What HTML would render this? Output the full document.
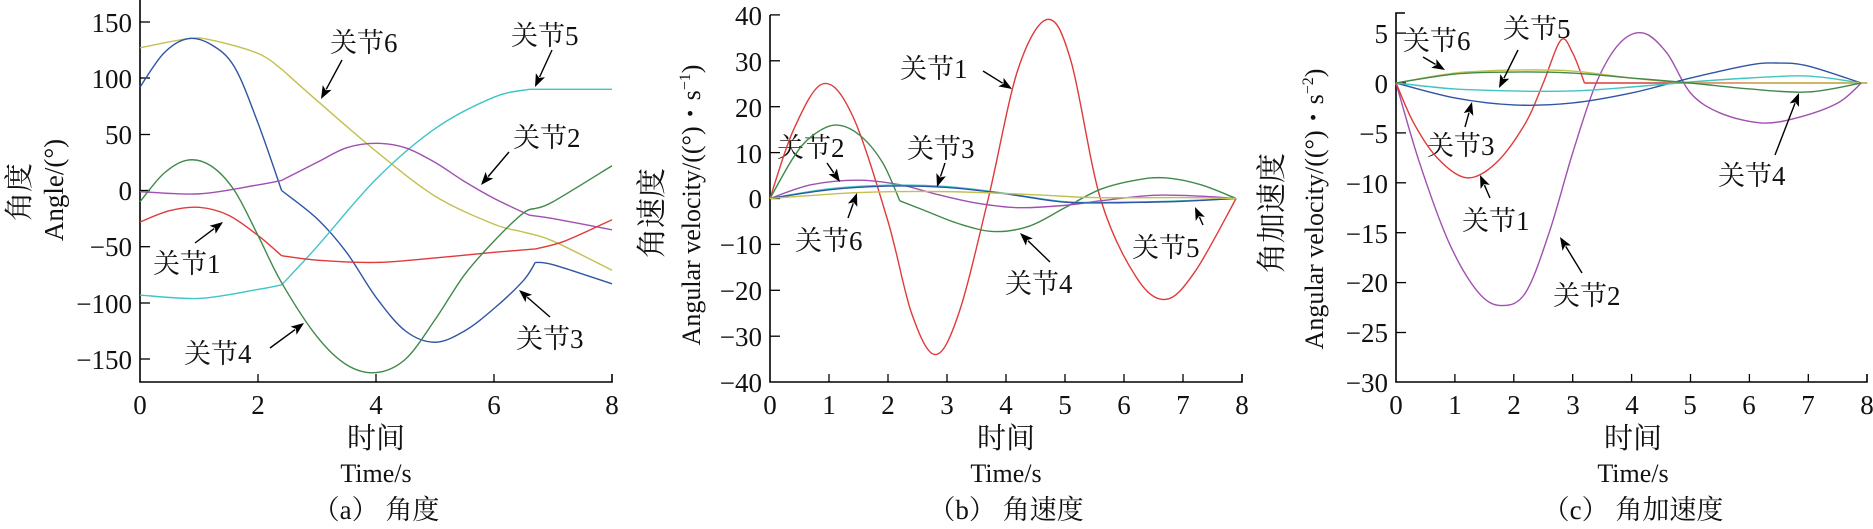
<!DOCTYPE html>
<html><head><meta charset="utf-8"><style>
html,body{margin:0;padding:0;background:#fff;}
svg{display:block;}
text{font-family:"Liberation Serif","Noto Serif CJK SC","Noto Sans CJK SC",serif;fill:#111;}
</style></head><body>
<svg id="s" width="1873" height="529" viewBox="0 0 1873 529" xmlns="http://www.w3.org/2000/svg">
<g font-size="27">
<path d="M140 0 V382 H612 V374" stroke="#000" stroke-width="1.6" fill="none"/>
<g stroke="#000" stroke-width="1.3">
<line x1="140" y1="22" x2="150" y2="22"/><line x1="140" y1="78" x2="150" y2="78"/><line x1="140" y1="134.5" x2="150" y2="134.5"/><line x1="140" y1="190.5" x2="150" y2="190.5"/><line x1="140" y1="246.7" x2="150" y2="246.7"/><line x1="140" y1="303" x2="150" y2="303"/><line x1="140" y1="359" x2="150" y2="359"/>
<line x1="258" y1="382" x2="258" y2="374"/><line x1="376" y1="382" x2="376" y2="374"/><line x1="494" y1="382" x2="494" y2="374"/>
</g>
<g text-anchor="end">
<text x="132" y="32">150</text><text x="132" y="88">100</text><text x="132" y="144">50</text><text x="132" y="200">0</text><text x="132" y="256">−50</text><text x="132" y="313">−100</text><text x="132" y="369">−150</text>
</g>
<g text-anchor="middle">
<text x="140" y="414">0</text><text x="258" y="414">2</text><text x="376" y="414">4</text><text x="494" y="414">6</text><text x="612" y="414">8</text>
<text x="376" y="448" font-size="29">时间</text>
<text x="376" y="482" font-size="26">Time/s</text>
<text x="376" y="519">（a） 角度</text>
<text transform="translate(29,192) rotate(-90)" font-size="29">角度</text>
<text transform="translate(63,190) rotate(-90)" font-size="27">Angle/(°)</text>
</g>

<path d="M770 15 V382 H1242 V374" stroke="#000" stroke-width="1.6" fill="none"/>
<g stroke="#000" stroke-width="1.3" id="bt"></g>
<g text-anchor="end">
<text x="762" y="25">40</text><text x="762" y="71">30</text><text x="762" y="117">20</text><text x="762" y="163">10</text><text x="762" y="208">0</text><text x="762" y="254">−10</text><text x="762" y="300">−20</text><text x="762" y="346">−30</text><text x="762" y="392">−40</text>
</g>
<g text-anchor="middle">
<text x="770" y="414">0</text><text x="829" y="414">1</text><text x="888" y="414">2</text><text x="947" y="414">3</text><text x="1006" y="414">4</text><text x="1065" y="414">5</text><text x="1124" y="414">6</text><text x="1183" y="414">7</text><text x="1242" y="414">8</text>
<text x="1006" y="448" font-size="29">时间</text>
<text x="1006" y="482" font-size="26">Time/s</text>
<text x="1006" y="519">（b） 角速度</text>
<text transform="translate(662,213) rotate(-90)" font-size="30">角速度</text>
<text transform="translate(700,205) rotate(-90)" font-size="26">Angular velocity/((°)・s<tspan dy="-10" font-size="16">−1</tspan><tspan dy="10">)</tspan></text>
</g>

<path d="M1405 13 H1396 V382 H1867 V374" stroke="#000" stroke-width="1.6" fill="none"/>
<g stroke="#000" stroke-width="1.3" id="ct"></g>
<g text-anchor="end">
<text x="1388" y="43">5</text><text x="1388" y="93">0</text><text x="1388" y="143">−5</text><text x="1388" y="193">−10</text><text x="1388" y="243">−15</text><text x="1388" y="292">−20</text><text x="1388" y="342">−25</text><text x="1388" y="392">−30</text>
</g>
<g text-anchor="middle">
<text x="1396" y="414">0</text><text x="1455" y="414">1</text><text x="1514" y="414">2</text><text x="1573" y="414">3</text><text x="1632" y="414">4</text><text x="1690" y="414">5</text><text x="1749" y="414">6</text><text x="1808" y="414">7</text><text x="1867" y="414">8</text>
<text x="1633" y="448" font-size="29">时间</text>
<text x="1633" y="482" font-size="26">Time/s</text>
<text x="1633" y="519">（c） 角加速度</text>
<text transform="translate(1282,213) rotate(-90)" font-size="30">角加速度</text>
<text transform="translate(1323,209) rotate(-90)" font-size="26">Angular velocity/((°)・s<tspan dy="-10" font-size="16">−2</tspan><tspan dy="10">)</tspan></text>
</g>

<g font-size="27">
<text x="330" y="52">关节6</text><text x="511" y="45">关节5</text><text x="513" y="147">关节2</text><text x="153" y="273">关节1</text><text x="184" y="363">关节4</text><text x="516" y="348">关节3</text>
<text x="900" y="78">关节1</text><text x="777" y="157">关节2</text><text x="907" y="158">关节3</text><text x="795" y="250">关节6</text><text x="1005" y="293">关节4</text><text x="1132" y="257">关节5</text>
<text x="1403" y="50">关节6</text><text x="1503" y="38">关节5</text><text x="1427" y="155">关节3</text><text x="1462" y="230">关节1</text><text x="1553" y="305">关节2</text><text x="1718" y="185">关节4</text>
</g>
</g>
<g id="curves" fill="none" stroke-width="1.4"></g>
<g id="arrows"></g>
</svg>
<script>
var NS="http://www.w3.org/2000/svg",svg=document.getElementById('s');
function el(p,t,a){var e=document.createElementNS(NS,t);for(var k in a)e.setAttribute(k,a[k]);p.appendChild(e);return e;}
var bt=document.getElementById('bt');
for(var i=1;i<8;i++)el(bt,'line',{x1:770+59*i,y1:382,x2:770+59*i,y2:374});
for(var v=-30;v<=40;v+=10)el(bt,'line',{x1:770,y1:198.5-v*4.59,x2:780,y2:198.5-v*4.59});
var ct=document.getElementById('ct');
for(var i=1;i<8;i++)el(ct,'line',{x1:1396+58.9*i,y1:382,x2:1396+58.9*i,y2:374});
for(var v=-25;v<=5;v+=5)el(ct,'line',{x1:1396,y1:83-v*9.98,x2:1406,y2:83-v*9.98});
var C={r:"#e03a3a",p:"#a050b0",b:"#2f55a5",g:"#3f8a4a",c:"#40c4c4",y:"#c4c050"};
var P={a:{x0:140,sx:59,y0:190.5,sy:1.124},b:{x0:770,sx:59,y0:198.5,sy:4.59},c:{x0:1396,sx:58.9,y0:83,sy:9.98}};
function seg(pts){var s="M"+pts[0][0]+" "+pts[0][1];
for(var i=0;i<pts.length-1;i++){var a=pts[Math.max(0,i-1)],b=pts[i],c=pts[i+1],e=pts[Math.min(pts.length-1,i+2)];
s+=" C"+(b[0]+(c[0]-a[0])/6)+" "+(b[1]+(c[1]-a[1])/6)+" "+(c[0]-(e[0]-b[0])/6)+" "+(c[1]-(e[1]-b[1])/6)+" "+c[0]+" "+c[1];}return s;}
function curve(pn,col,d,brk){var p=P[pn];brk=brk||[];var segs=[[]];
d.forEach(function(q){var pt=[p.x0+q[0]*p.sx,p.y0-q[1]*p.sy];segs[segs.length-1].push(pt);if(brk.indexOf(q[0])>=0)segs.push([pt]);});
var s=segs.filter(function(x){return x.length>1;}).map(seg).join(" ");
el(document.getElementById('curves'),'path',{d:s,stroke:C[col]});}
curve('a','y',[[0,127],[0.8,135],[1.2,134],[2,122],[2.4,108],[3,80],[4,35],[5,-5],[6,-30],[6.5,-37],[7,-45],[8,-71]],[2.4]);
curve('a','b',[[0,92],[0.4,122],[0.8,135],[1.2,130],[1.6,110],[2,60],[2.4,0],[3,-25],[3.5,-55],[4,-95],[4.5,-125],[5,-135],[5.5,-125],[6,-105],[6.5,-80],[6.7,-64],[7,-66],[8,-83]],[2.4,6.7]);
curve('a','c',[[0,-93],[1,-96],[2,-88],[2.4,-84],[3,-50],[4,10],[5,55],[6,83],[6.6,90],[7,90],[8,90]],[2.4,6.6]);
curve('a','p',[[0,-1],[1,-3],[2,5],[2.4,9],[3,25],[3.5,38],[4,42],[4.5,38],[5,25],[5.5,8],[6,-7],[6.6,-22],[7,-25],[8,-35]],[2.4,6.6]);
curve('a','r',[[0,-28],[0.5,-18],[1,-15],[1.5,-22],[2,-40],[2.4,-58],[3,-62],[4,-64],[5,-60],[6,-55],[6.7,-52],[7.2,-45],[8,-26]],[2.4,6.7]);
curve('a','g',[[0,-10],[0.4,15],[0.8,27],[1.2,22],[1.6,0],[2,-40],[2.4,-82],[3,-130],[3.5,-155],[4,-162],[4.5,-150],[5,-115],[5.5,-75],[6,-45],[6.5,-20],[6.7,-16],[7,-10],[8,22]],[6.7]);
curve('b','r',[[0,0],[0.4,15],[0.9,25],[1.4,18],[2,-5],[2.4,-25],[2.8,-34],[3.2,-25],[3.7,0],[4.2,28],[4.7,39],[5.1,30],[5.6,0],[6.2,-17],[6.7,-22],[7.2,-16],[7.9,0]]);
curve('b','g',[[0,0],[0.4,9],[0.7,13.5],[1.1,16],[1.5,14],[1.9,8],[2.2,-0.5],[2.6,-2.5],[3.2,-5.5],[3.8,-7.2],[4.4,-6],[5,-2],[5.6,2],[6.2,4],[6.7,4.5],[7.3,3],[7.9,0]],[2.2]);
curve('b','p',[[0,0],[0.7,3],[1.5,4],[2.2,3],[2.8,1],[3.5,-1],[4.2,-2],[5,-1.5],[5.6,-0.5],[6.5,0.7],[7.3,0.5],[7.9,0]]);
curve('b','c',[[0,0],[1,2.1],[2,2.9],[3,2.6],[4,1.1],[5,-0.7],[6,-0.8],[7,-0.5],[7.9,0]]);
curve('b','b',[[0,0],[1,1.9],[2,2.7],[3,2.4],[4,1],[5,-0.8],[6,-0.9],[7,-0.6],[7.9,0]]);
curve('b','y',[[0,0],[1.5,1.3],[3,1.5],[4.5,0.8],[5.5,0.2],[7,0.2],[7.9,0]]);
curve('c','p',[[0,0],[0.4,-8],[0.9,-16],[1.4,-21],[1.8,-22.3],[2.2,-21],[2.6,-15],[3.0,-7],[3.4,0],[3.8,4],[4.2,5],[4.6,3],[5,-1],[5.5,-3],[6.2,-4],[6.8,-3.5],[7.5,-2],[7.9,0]]);
curve('c','r',[[0,0],[0.3,-4],[0.7,-7.5],[1.2,-9.5],[1.7,-8],[2.2,-4],[2.5,0],[2.8,4.3],[3.0,3],[3.2,0],[5,0],[8,0]],[3.2]);
curve('c','b',[[0,0],[1,-1.5],[2,-2.2],[3,-2],[4,-1],[5,0.5],[6,1.8],[6.5,2],[7,1.7],[7.9,0]]);
curve('c','c',[[0,0],[1,-0.6],[2,-0.8],[3,-0.8],[4,-0.4],[5,0.1],[6,0.5],[7,0.7],[7.9,0]]);
curve('c','y',[[0,0],[1,1],[2,1.3],[3,1.2],[4,0.5],[5,0],[6.5,0],[8,0]]);
curve('c','g',[[0,0],[1,0.9],[2,1.1],[3,1],[4,0.5],[5,0],[6,-0.6],[7,-0.9],[7.9,0]]);
function arrow(x1,y1,x2,y2){var g=document.getElementById('arrows');
var dx=x2-x1,dy=y2-y1,L=Math.sqrt(dx*dx+dy*dy),ux=dx/L,uy=dy/L,h=13,w=5;
var bx=x2-ux*h,by=y2-uy*h;
el(g,'line',{x1:x1,y1:y1,x2:bx+ux*2,y2:by+uy*2,stroke:"#000","stroke-width":1.4});
el(g,'polygon',{points:x2+","+y2+" "+(bx-uy*w)+","+(by+ux*w)+" "+(bx+ux*3)+","+(by+uy*3)+" "+(bx+uy*w)+","+(by-ux*w),fill:"#000"});}
arrow(342,60,321,99);arrow(552,50,535,87);arrow(509,152,481,185);arrow(195,243,223,222);arrow(270,348,304,323);arrow(550,317,519,290);
arrow(983,71,1012,89);arrow(827,163,840,182);arrow(945,163,937,187);arrow(848,218,857,193);arrow(1050,262,1020,233);arrow(1203,225,1195,207);
arrow(1423,57,1445,70);arrow(1518,50,1499,88);arrow(1465,127,1472,102);arrow(1490,198,1480,175);arrow(1582,273,1560,237);arrow(1775,155,1799,93);
</script>
</body></html>
